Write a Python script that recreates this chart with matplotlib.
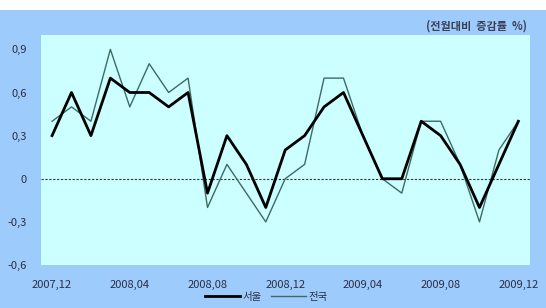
import numpy as np
import matplotlib.pyplot as plt
from matplotlib.patches import Rectangle

plt.rcParams['font.family'] = ['Noto Sans CJK KR', 'DejaVu Sans']

# ===============================
# Data (month-on-month change, %)
# ===============================
months = ["2007,12", "2008,01", "2008,02", "2008,03", "2008,04", "2008,05",
          "2008,06", "2008,07", "2008,08", "2008,09", "2008,10", "2008,11",
          "2008,12", "2009,01", "2009,02", "2009,03", "2009,04", "2009,05",
          "2009,06", "2009,07", "2009,08", "2009,09", "2009,10", "2009,11",
          "2009,12"]
seoul = [0.3, 0.6, 0.3, 0.7, 0.6, 0.6, 0.5, 0.6, -0.1, 0.3, 0.1, -0.2,
         0.2, 0.3, 0.5, 0.6, 0.3, 0.0, 0.0, 0.4, 0.3, 0.1, -0.2, 0.1, 0.4]
nation = [0.4, 0.5, 0.4, 0.9, 0.5, 0.8, 0.6, 0.7, -0.2, 0.1, -0.1, -0.3,
          0.0, 0.1, 0.7, 0.7, 0.3, 0.0, -0.1, 0.4, 0.4, 0.1, -0.3, 0.2, 0.4]
yticks = [-0.6, -0.3, 0, 0.3, 0.6, 0.9]
ytick_labels = ["-0,6", "-0,3", "0", "0,3", "0,6", "0,9"]

TEXT = "#2b2f45"

fig = plt.figure(figsize=(5.46, 3.08), dpi=100, facecolor="white")
fig.patches.append(Rectangle((0, 0), 1, 1 - 10 / 308, transform=fig.transFigure,
                             facecolor="#9dcbfb", edgecolor="none", zorder=-10))

ax = fig.add_axes([41 / 546, 1 - 265 / 308, 489 / 546, 230 / 308])
ax.set_facecolor("#ccffff")
for s in ax.spines.values():
    s.set_visible(False)

x = np.arange(len(months))
ax.plot(x, nation, color="#3e6a66", linewidth=1.0, label="전국", zorder=3)
ax.plot(x, seoul, color="black", linewidth=2.0, label="서울", zorder=4)
ax.axhline(0, color="#333333", linewidth=0.8, linestyle=(0, (2, 1.5)), zorder=2)

ax.set_xlim(-0.57, 24.6)
ax.set_ylim(-0.6, 1.0)
ax.set_yticks(yticks)
ax.set_yticklabels(ytick_labels)
ax.set_xticks(x[::4])
ax.set_xticklabels(months[::4])
ax.tick_params(length=0, labelsize=8, colors=TEXT)
ax.tick_params(axis="y", pad=10)
ax.tick_params(axis="x", pad=11)

fig.text(527 / 546, 1 - 26 / 308, "(전월대비  증감률  %)", ha="right", va="center",
         fontsize=8, fontweight="bold", color="#3a3f55")

handles, labels = ax.get_legend_handles_labels()
fig.legend(handles[::-1], labels[::-1], loc="center", bbox_to_anchor=(266 / 546, 1 - 297 / 308),
           ncol=2, frameon=False, fontsize=7.5, handlelength=3.4, columnspacing=0.9,
           handletextpad=0.2, labelcolor=TEXT)

fig.savefig("out.png", dpi=100, facecolor=fig.get_facecolor())
